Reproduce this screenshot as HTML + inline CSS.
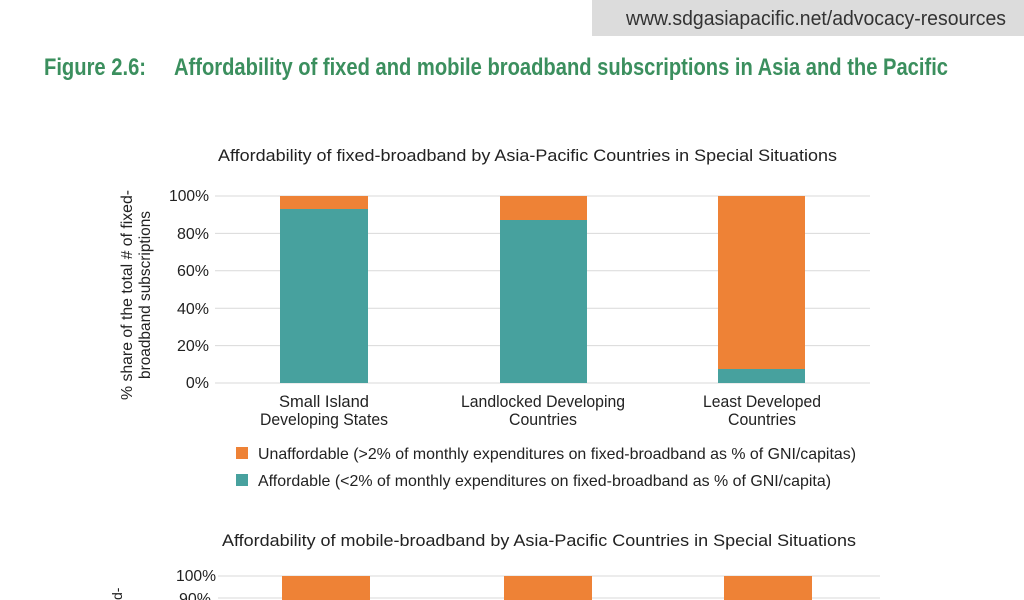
<!DOCTYPE html>
<html><head><meta charset="utf-8"><style>
html,body{margin:0;padding:0;background:#fff;width:1024px;height:600px;overflow:hidden}
text{font-family:"Liberation Sans",sans-serif}
</style></head><body>
<svg width="1024" height="600" xmlns="http://www.w3.org/2000/svg">
<rect x="592" y="0" width="432" height="36" fill="#dcdcdc"/>
<text x="626" y="25" font-size="20" fill="#333" textLength="380" lengthAdjust="spacingAndGlyphs">www.sdgasiapacific.net/advocacy-resources</text>
<text x="44" y="75" font-size="24" font-weight="bold" fill="#3b8f5e" textLength="102" lengthAdjust="spacingAndGlyphs">Figure 2.6:</text>
<text x="174" y="75" font-size="24" font-weight="bold" fill="#3b8f5e" textLength="774" lengthAdjust="spacingAndGlyphs">Affordability of fixed and mobile broadband subscriptions in Asia and the Pacific</text>

<text x="218" y="161" font-size="17" fill="#222" textLength="619" lengthAdjust="spacingAndGlyphs">Affordability of fixed-broadband by Asia-Pacific Countries in Special Situations</text>
<g stroke="#d9d9d9" stroke-width="1">
<line x1="215" x2="870" y1="196" y2="196"/><line x1="215" x2="870" y1="233.4" y2="233.4"/>
<line x1="215" x2="870" y1="270.8" y2="270.8"/><line x1="215" x2="870" y1="308.2" y2="308.2"/>
<line x1="215" x2="870" y1="345.6" y2="345.6"/><line x1="215" x2="870" y1="383" y2="383"/>
</g>
<g font-size="16" fill="#222" text-anchor="end">
<text x="209" y="201" textLength="40" lengthAdjust="spacingAndGlyphs">100%</text><text x="209" y="239">80%</text><text x="209" y="276">60%</text>
<text x="209" y="314">40%</text><text x="209" y="351">20%</text><text x="209" y="388">0%</text>
</g>
<g transform="translate(132,295) rotate(-90)" font-size="16" fill="#222" text-anchor="middle">
<text x="0" y="0" textLength="210" lengthAdjust="spacingAndGlyphs">% share of the total # of fixed-</text>
<text x="0" y="18" textLength="168" lengthAdjust="spacingAndGlyphs">broadband subscriptions</text>
</g>
<rect x="280" y="196" width="88" height="13" fill="#ee8236"/><rect x="280" y="209" width="88" height="174" fill="#47a19e"/>
<rect x="500" y="196" width="87" height="24" fill="#ee8236"/><rect x="500" y="220" width="87" height="163" fill="#47a19e"/>
<rect x="718" y="196" width="87" height="173" fill="#ee8236"/><rect x="718" y="369" width="87" height="14" fill="#47a19e"/>
<g font-size="17" fill="#222" text-anchor="middle">
<text x="324" y="407" textLength="90" lengthAdjust="spacingAndGlyphs">Small Island</text><text x="324" y="425" textLength="128" lengthAdjust="spacingAndGlyphs">Developing States</text>
<text x="543" y="407" textLength="164" lengthAdjust="spacingAndGlyphs">Landlocked Developing</text><text x="543" y="425" textLength="68" lengthAdjust="spacingAndGlyphs">Countries</text>
<text x="762" y="407" textLength="118" lengthAdjust="spacingAndGlyphs">Least Developed</text><text x="762" y="425" textLength="68" lengthAdjust="spacingAndGlyphs">Countries</text>
</g>
<rect x="236" y="447" width="12" height="12" fill="#ee8236"/>
<text x="258" y="459" font-size="16" fill="#222" textLength="598" lengthAdjust="spacingAndGlyphs">Unaffordable (&gt;2% of monthly expenditures on fixed-broadband as % of GNI/capitas)</text>
<rect x="236" y="474" width="12" height="12" fill="#47a19e"/>
<text x="258" y="486" font-size="16" fill="#222" textLength="573" lengthAdjust="spacingAndGlyphs">Affordable (&lt;2% of monthly expenditures on fixed-broadband as % of GNI/capita)</text>

<text x="222" y="546" font-size="17" fill="#222" textLength="634" lengthAdjust="spacingAndGlyphs">Affordability of mobile-broadband by Asia-Pacific Countries in Special Situations</text>
<g stroke="#d9d9d9"><line x1="218" x2="880" y1="576" y2="576"/><line x1="218" x2="880" y1="598" y2="598"/></g>
<g font-size="16" fill="#222" text-anchor="end"><text x="216" y="581" textLength="40" lengthAdjust="spacingAndGlyphs">100%</text><text x="211" y="604">90%</text></g>
<text x="122" y="600" font-size="14" fill="#222" transform="rotate(-90 122 600)">d-</text>
<rect x="282" y="576" width="88" height="24" fill="#ee8236"/>
<rect x="504" y="576" width="88" height="24" fill="#ee8236"/>
<rect x="724" y="576" width="88" height="24" fill="#ee8236"/>
</svg>
</body></html>
